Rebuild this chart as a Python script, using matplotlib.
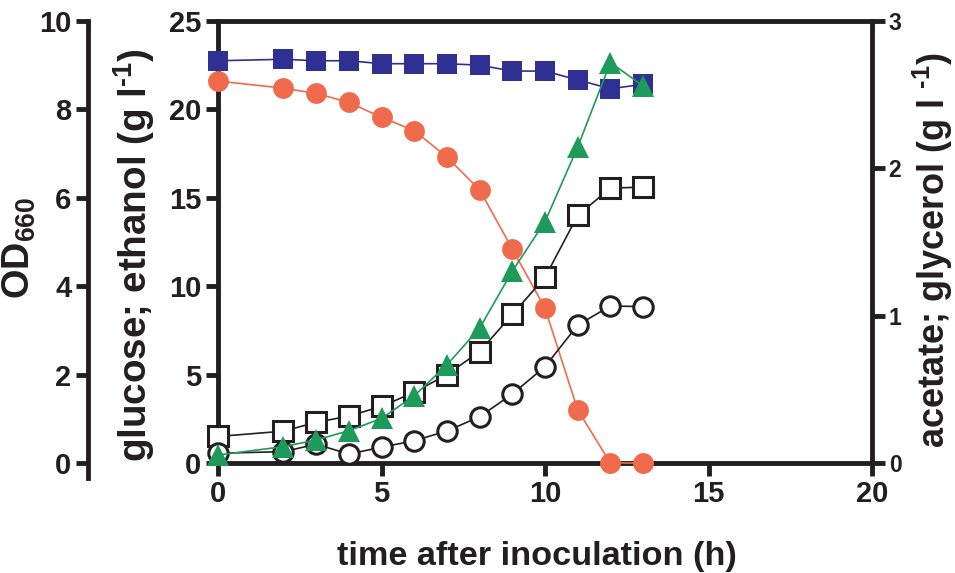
import numpy as np
import matplotlib.pyplot as plt

plt.rcParams['font.family'] = ['Liberation Sans', 'DejaVu Sans']
plt.rcParams['font.weight'] = 'bold'
plt.rcParams['mathtext.fontset'] = 'custom'
plt.rcParams['mathtext.rm'] = 'Liberation Sans:bold'
plt.rcParams['mathtext.it'] = 'Liberation Sans:bold'
plt.rcParams['mathtext.bf'] = 'Liberation Sans:bold'

# data
time_h = [0, 2, 3, 4, 5, 6, 7, 8, 9, 10, 11, 12, 13]
glucose = [21.6, 21.2, 20.9, 20.4, 19.55, 18.8, 17.3, 15.45, 12.1, 8.75, 3.0, 0.0, 0.0]
ethanol = [1.5, 1.8, 2.3, 2.65, 3.2, 4.0, 5.0, 6.3, 8.4, 10.5, 14.0, 15.55, 15.6]
od660 = [0.18, 0.37, 0.52, 0.73, 1.01, 1.52, 2.22, 3.05, 4.34, 5.46, 7.15, 9.06, 8.53]
acetate = [2.73, 2.74, 2.73, 2.73, 2.71, 2.71, 2.71, 2.70, 2.66, 2.66, 2.60, 2.54, 2.57]
glycerol = [0.066, 0.077, 0.127, 0.061, 0.107, 0.151, 0.217, 0.314, 0.468, 0.654, 0.936, 1.066, 1.061]

ink = '#231f20'
red = '#ef6b4c'
blue = '#2e3192'
green = '#1e9a5a'
lw_ax = 3.5
W, H = 955, 573

fig = plt.figure(figsize=(9.55, 5.73), dpi=100)
ax = fig.add_axes([0.2283, 0.192, 0.6848, 0.7714])

# glucose and ethanol on the middle axis
ax.plot(time_h, glucose, '-o', color=red, ms=15, mew=0, lw=1.2, clip_on=False, zorder=3)
ax.plot(time_h, ethanol, '-s', color=ink, mfc='white', mec=ink, ms=14, mew=2.2, lw=1.2,
        clip_on=False, zorder=3)
ax.set_xlim(0, 20)
ax.set_ylim(0, 25)
ax.set_xticks([0, 5, 10, 15, 20])
ax.set_yticks([0, 5, 10, 15, 20, 25])

# acetate and glycerol on the right axis
ax_r = ax.twinx()
ax_r.plot(time_h, acetate, '-s', color=blue, ms=14.5, mew=0, lw=1.2, clip_on=False, zorder=3)
ax_r.plot(time_h, glycerol, '-o', color=ink, mfc='white', mec=ink, ms=14, mew=2.2, lw=1.2,
          clip_on=False, zorder=3)
ax_r.set_ylim(0, 3)
ax_r.set_yticks([0, 1, 2, 3])

# OD on the outer left axis
ax_od = ax.twinx()
ax_od.plot(time_h, od660, '-^', color=green, ms=15.5, mew=0, lw=1.2, clip_on=False, zorder=3)
ax_od.set_ylim(0, 10)
ax_od.set_yticks([0, 2, 4, 6, 8, 10])
ax_od.yaxis.tick_left()
ax_od.spines['left'].set_position(('axes', (88 - 218) / 654))
ax_od.spines['left'].set_bounds(-0.35, 10)
for s in ['right', 'top', 'bottom']:
    ax_od.spines[s].set_visible(False)
for s in ['left', 'top', 'bottom']:
    ax_r.spines[s].set_visible(False)
ax.spines['right'].set_visible(False)

for a in [ax, ax_r, ax_od]:
    for s in a.spines.values():
        s.set_linewidth(lw_ax)
        s.set_color(ink)
        s.set_capstyle('projecting')

ax.tick_params(direction='out', length=9, width=lw_ax, color=ink, labelcolor=ink,
               labelsize=21, pad=3)
ax_od.tick_params(direction='out', length=9, width=lw_ax, color=ink, labelcolor=ink,
                  labelsize=21, pad=3)
ax_r.tick_params(direction='out', length=9, width=lw_ax, color=ink, labelcolor=ink,
                 labelsize=16.5, pad=3)

# axis titles, placed in pixels and sized to the span they cover in the original
labels = [
    ('time after inoculation (h)', 537, 557, 0, 400),
    (r'glucose; ethanol (g l$^{\text{-1}}$)', 134, 255, 90, 415),
    (r'OD$_{660}$', 19, 248, 90, 103),
    (r'acetate; glycerol (g l $^{\text{-1}}$)', 933, 250, 90, 395),
]
texts = []
for s, x, y, rot, span in labels:
    t = fig.text(x / W, 1 - y / H, s, ha='center', va='center', rotation=rot,
                 fontsize=20, color=ink)
    texts.append((t, rot, span))

fig.canvas.draw()
renderer = fig.canvas.get_renderer()
for t, rot, span in texts:
    bb = t.get_window_extent(renderer)
    length = bb.height if rot == 90 else bb.width
    t.set_fontsize(t.get_fontsize() * span / length)

fig.savefig('out.png', dpi=100)
